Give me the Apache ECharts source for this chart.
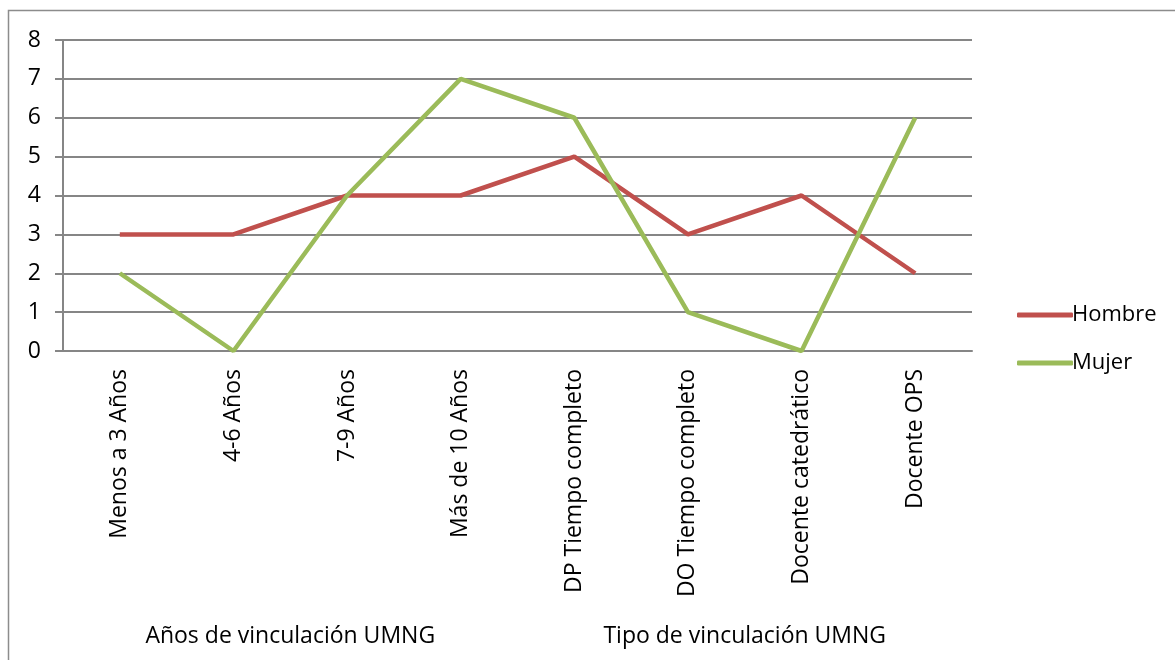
<!DOCTYPE html>
<html>
<head>
<meta charset="utf-8">
<script src="https://cdn.jsdelivr.net/npm/echarts@6/dist/echarts.min.js"></script>
<style>
  html, body { margin: 0; padding: 0; background: #fff; }
  #chart { width: 1175px; height: 660px; }
</style>
</head>
<body>
<div id="chart"></div>
<script>
  var categories = ['Menos a 3 Años', '4-6 Años', '7-9 Años', 'Más de 10 Años',
    'DP Tiempo completo', 'DO Tiempo completo', 'Docente catedrático', 'Docente OPS'];
  var groups = ['Años de vinculación UMNG', 'Tipo de vinculación UMNG'];
  var hombre = [3, 3, 4, 4, 5, 3, 4, 2];
  var mujer = [2, 0, 4, 7, 6, 1, 0, 6];

  var font = 'Open Sans';
  var myChart = echarts.init(document.getElementById('chart'));
  var option = {
    animation: false,
    graphic: [{
      type: 'rect',
      shape: { x: 8.5, y: 10.5, width: 1300, height: 800 },
      style: { fill: 'none', stroke: '#8c8c8c', lineWidth: 1.5 },
      silent: true
    }],
    grid: { left: 63, top: 40, width: 909, height: 311 },
    legend: {
      orient: 'vertical',
      left: 1012,
      top: 297,
      itemWidth: 56,
      itemHeight: 5,
      itemGap: 22,
      icon: 'roundRect',
      textStyle: { fontFamily: font, fontSize: 22, color: '#000', lineHeight: 26, padding: [0, 0, 0, -6] },
      data: ['Hombre', 'Mujer']
    },
    xAxis: [{
      type: 'category',
      data: categories,
      boundaryGap: true,
      axisLine: { lineStyle: { color: '#868686', width: 2 } },
      axisTick: { show: false },
      axisLabel: { rotate: 90, margin: 18, fontFamily: font, fontSize: 23, color: '#000', interval: 0 }
    }, {
      type: 'category',
      data: groups,
      position: 'bottom',
      offset: 274,
      axisLine: { show: false },
      axisTick: { show: false },
      axisLabel: { fontFamily: font, fontSize: 23, color: '#000', margin: 0 }
    }],
    yAxis: {
      type: 'value',
      min: 0,
      max: 8,
      interval: 1,
      axisLine: { show: true, lineStyle: { color: '#868686', width: 2 } },
      axisTick: { show: true, length: 8, lineStyle: { color: '#868686', width: 2 } },
      axisLabel: { margin: 22, fontFamily: font, fontSize: 23, color: '#000' },
      splitLine: { lineStyle: { color: '#868686', width: 2 } }
    },
    series: [{
      name: 'Hombre',
      type: 'line',
      data: hombre,
      xAxisIndex: 0,
      showSymbol: false,
      symbol: 'none',
      color: '#C0504D',
      lineStyle: { width: 4.5, color: '#C0504D' }
    }, {
      name: 'Mujer',
      type: 'line',
      data: mujer,
      xAxisIndex: 0,
      showSymbol: false,
      symbol: 'none',
      color: '#9BBB59',
      lineStyle: { width: 4.5, color: '#9BBB59' }
    }]
  };
  myChart.setOption(option);
</script>
</body>
</html>
